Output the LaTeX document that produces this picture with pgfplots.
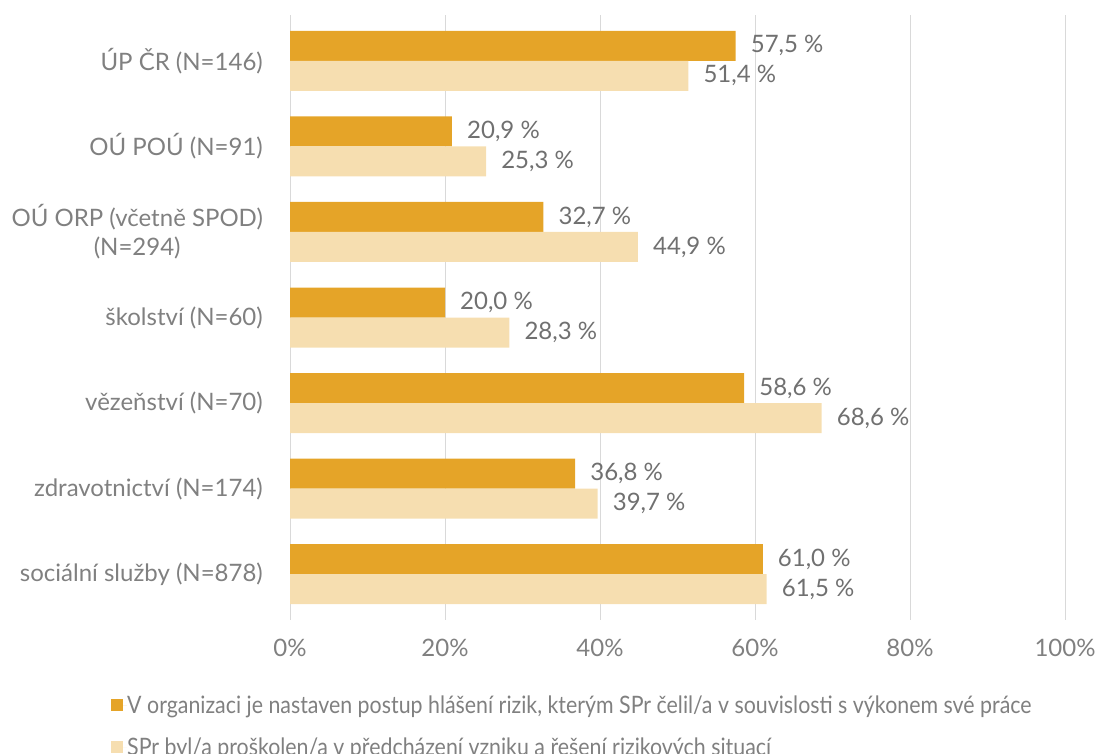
\documentclass[border=0pt]{standalone}
\usepackage{fontspec}
\setmainfont{Lato}
\newfontfamily\condfont[FakeStretch=0.89]{Lato}
\usepackage{pgfplots}
\usepackage{pgfplotstable}
\pgfplotsset{compat=1.18}
\definecolor{cdark}{RGB}{229,164,40}
\definecolor{clight}{RGB}{246,222,176}
\definecolor{ctext}{RGB}{128,128,128}
\definecolor{clabel}{RGB}{112,112,112}
\definecolor{cgrid}{RGB}{217,217,217}
\pgfplotstableread{
idx a b
0 57.5 51.4
1 20.9 25.3
2 32.7 44.9
3 20.0 28.3
4 58.6 68.6
5 36.8 39.7
6 61.0 61.5
}\datatable
\begin{document}
\begin{tikzpicture}
\useasboundingbox (0,0) rectangle (1099pt,753pt);
\begin{axis}[
  at={(290pt,133pt)}, anchor=south west,
  scale only axis, width=775pt, height=605pt,
  xbar=0pt, bar width=30pt,
  xmin=0, xmax=100, ymin=-0.537, ymax=6.537, y dir=reverse,
  xtick={0,20,...,100},
  xticklabels={0\%,20\%,40\%,60\%,80\%,100\%},
  ytick={0,...,6},
  yticklabels={ÚP ČR (N=146),OÚ POÚ (N=91),{OÚ ORP (včetně SPOD)\\(N=294)},školství (N=60),vězeňství (N=70),zdravotnictví (N=174),sociální služby (N=878)},
  axis line style={draw=none},
  major tick length=0pt,
  xmajorgrids, grid style={cgrid, line width=1pt},
  xticklabel style={font=\fontsize{24}{29}\selectfont, text=ctext, anchor=north, inner sep=0pt, yshift=-19pt},
  yticklabel style={font=\fontsize{24}{29}\selectfont, text=ctext, align=center, anchor=east, inner sep=0pt, xshift=-27pt},
  nodes near coords={\pgfmathprintnumber[fixed,fixed zerofill,precision=1,use comma,assume math mode=true]{\pgfplotspointmeta}~\%},
  nodes near coords style={font=\fontsize{24}{29}\selectfont, text=clabel, anchor=west, inner sep=0pt, xshift=15pt},
  legend style={at={(-0.2348,-0.1215)}, anchor=north west, draw=none, fill=none,
    font=\condfont\fontsize{24}{29}\selectfont, text=ctext, row sep=23pt,
    nodes={inner sep=0pt}},
  legend cell align=left,
  legend image code/.code={\fill[#1,draw=none] (0pt,-6pt) rectangle (12pt,6pt); \path (0pt,0pt) -- (16pt,0pt);},
]
\addplot[fill=cdark, draw=none, bar shift=15pt] table[x=a, y=idx] {\datatable};
\addplot[fill=clight, draw=none, bar shift=-15pt] table[x=b, y=idx] {\datatable};
\legend{{V organizaci je nastaven postup hlášení rizik, kterým SPr čelil/a v souvislosti s výkonem své práce}, {SPr byl/a proškolen/a v předcházení vzniku a řešení rizikových situací}}
\end{axis}
\end{tikzpicture}
\end{document}
